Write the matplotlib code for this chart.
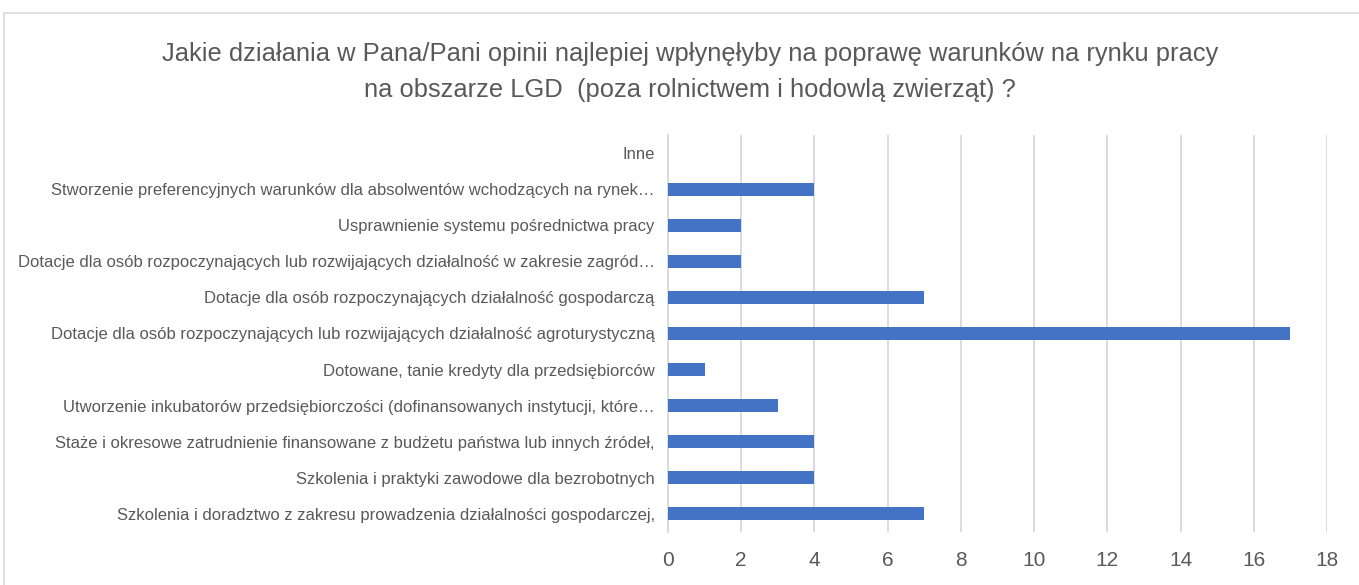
import matplotlib
matplotlib.use("Agg")
import matplotlib.pyplot as plt
from matplotlib.patches import Rectangle

categories = [
    "Szkolenia i doradztwo z zakresu prowadzenia działalności gospodarczej,",
    "Szkolenia i praktyki zawodowe dla bezrobotnych",
    "Staże i okresowe zatrudnienie finansowane z budżetu państwa lub innych źródeł,",
    "Utworzenie inkubatorów przedsiębiorczości (dofinansowanych instytucji, które…",
    "Dotowane, tanie kredyty dla przedsiębiorców",
    "Dotacje dla osób rozpoczynających lub rozwijających działalność agroturystyczną",
    "Dotacje dla osób rozpoczynających działalność gospodarczą",
    "Dotacje dla osób rozpoczynających lub rozwijających działalność w zakresie zagród…",
    "Usprawnienie systemu pośrednictwa pracy",
    "Stworzenie preferencyjnych warunków dla absolwentów wchodzących na rynek…",
    "Inne",
]
values = [7, 4, 4, 3, 1, 17, 7, 2, 2, 4, 0]
xticks = [0, 2, 4, 6, 8, 10, 12, 14, 16, 18]
title = ("Jakie działania w Pana/Pani opinii najlepiej wpłynęłyby na poprawę warunków na rynku pracy\n"
         "na obszarze LGD  (poza rolnictwem i hodowlą zwierząt) ?")

plt.rcParams['font.family'] = ['Liberation Sans', 'DejaVu Sans']

W, H = 1359, 585
fig = plt.figure(figsize=(W / 100, H / 100), dpi=100)
fig.patch.set_facecolor("white")

# chart-area border
fig.add_artist(Rectangle((4 / W, -0.1), 1.2, 1.1 - 13 / H, transform=fig.transFigure,
                         fill=False, edgecolor="#D9D9D9", linewidth=1.2))

ax = fig.add_axes([668 / W, 1 - 532 / H, (1327 - 668) / W, (532 - 135) / H])
ypos = list(range(len(categories)))
ax.barh(ypos, values, height=0.36, color="#4472C4", zorder=3)
ax.set_ylim(-0.5, len(categories) - 0.5)
ax.set_xlim(0, 18)
ax.set_xticks(xticks)
ax.set_xticklabels([str(t) for t in xticks])
ax.set_yticks(ypos)
ax.set_yticklabels(categories)
ax.grid(axis="x", color="#D9D9D9", linewidth=1.3, zorder=0)
for s in ["top", "right", "bottom"]:
    ax.spines[s].set_visible(False)
ax.spines["left"].set_color("#D9D9D9")
ax.spines["left"].set_linewidth(1.3)
ax.tick_params(axis="both", length=0, colors="#595959")
ax.tick_params(axis="y", labelsize=12, pad=9.5)
ax.tick_params(axis="x", labelsize=15, pad=14)

fig.text(690 / W, 1 - 72 / H, title, ha="center", va="center", fontsize=18.4,
         color="#595959", linespacing=1.58)

fig.savefig("out.png", dpi=100, facecolor="white")
